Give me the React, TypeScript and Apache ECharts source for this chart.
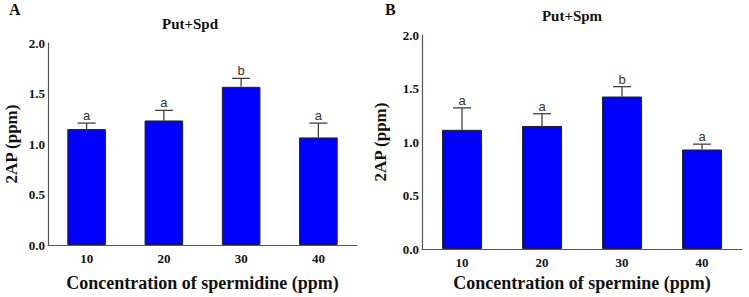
import React, { useEffect, useRef } from "react";
import * as echarts from "echarts";

const categories = ["10", "20", "30", "40"];
const spdMeans = [1.148, 1.233, 1.566, 1.065];
const spdUpper = [1.207, 1.333, 1.65, 1.207];
const spdLetters = ["a", "a", "b", "a"];
const spmMeans = [1.114, 1.15, 1.425, 0.93];
const spmUpper = [1.319, 1.264, 1.517, 0.98];
const spmLetters = ["a", "a", "b", "a"];
const yTicks = [0, 0.5, 1.0, 1.5, 2.0];

const serif = "'Liberation Serif', 'Times New Roman', serif";
const sans = "'Liberation Sans', Arial, sans-serif";

function errSeries(idx: number, means: number[], upper: number[], letters: string[]) {
  return {
    type: "custom",
    xAxisIndex: idx,
    yAxisIndex: idx,
    z: 3,
    data: means.map((m, i) => [i, m, upper[i]]),
    renderItem: (params: any, api: any) => {
      const i = api.value(0);
      const lo = api.coord([i, api.value(1)]);
      const hi = api.coord([i, api.value(2)]);
      const cap = 9;
      return {
        type: "group",
        children: [
          { type: "line", shape: { x1: lo[0], y1: lo[1], x2: hi[0], y2: hi[1] }, style: { stroke: "#333", lineWidth: 1.2 } },
          { type: "line", shape: { x1: hi[0] - cap, y1: hi[1], x2: hi[0] + cap, y2: hi[1] }, style: { stroke: "#333", lineWidth: 1.2 } },
          {
            type: "text",
            x: hi[0],
            y: hi[1] - 1,
            style: { text: letters[i], fontFamily: sans, fontSize: 13, fill: "#333", align: "center", verticalAlign: "bottom" },
          },
        ],
      };
    },
  };
}

function makeX(idx: number, name: string, gap: number) {
  return {
    type: "category",
    gridIndex: idx,
    data: categories,
    axisLine: { lineStyle: { color: "#555", width: 1.2 } },
    axisTick: { show: false },
    axisLabel: { fontFamily: serif, fontWeight: "bold", fontSize: 13, color: "#111", margin: 7 },
    name,
    nameLocation: "middle",
    nameGap: gap,
    nameTextStyle: { fontFamily: serif, fontWeight: "bold", fontSize: 18, color: "#111" },
  };
}

function makeY(idx: number, gap: number) {
  return {
    type: "value",
    gridIndex: idx,
    min: yTicks[0],
    max: yTicks[yTicks.length - 1],
    interval: 0.5,
    splitLine: { show: false },
    axisLine: { show: true, lineStyle: { color: "#555", width: 1.2 } },
    axisTick: { show: false },
    axisLabel: { fontFamily: serif, fontWeight: "bold", fontSize: 13, color: "#111", margin: 3, formatter: (v: number) => v.toFixed(1) },
    name: "2AP (ppm)",
    nameLocation: "middle",
    nameGap: gap,
    nameRotate: 90,
    nameTextStyle: { fontFamily: serif, fontWeight: "bold", fontSize: 17, color: "#111" },
  };
}

export default function App() {
  const ref = useRef<HTMLDivElement>(null);
  useEffect(() => {
    if (!ref.current) return;
    const chart = echarts.init(ref.current, null, { renderer: "svg" });
    chart.setOption({
      animation: false,
      backgroundColor: "#fff",
      grid: [
        { left: 48, top: 43, width: 309, height: 206 },
        { left: 422, top: 35, width: 320, height: 218 },
      ],
      xAxis: [makeX(0, "Concentration of spermidine (ppm)", 29), makeX(1, "Concentration of spermine (ppm)", 25)],
      yAxis: [makeY(0, 28), makeY(1, 33)],
      graphic: [
        { type: "text", x: 9, y: 1, style: { text: "A", fontFamily: serif, fontWeight: "bold", fontSize: 16, fill: "#111" } },
        { type: "text", x: 385, y: 1, style: { text: "B", fontFamily: serif, fontWeight: "bold", fontSize: 16, fill: "#111" } },
        { type: "text", x: 190, y: 16, style: { text: "Put+Spd", fontFamily: serif, fontWeight: "bold", fontSize: 15, fill: "#111", align: "center" } },
        { type: "text", x: 572, y: 8, style: { text: "Put+Spm", fontFamily: serif, fontWeight: "bold", fontSize: 15, fill: "#111", align: "center" } },
      ],
      series: [
        {
          type: "bar",
          xAxisIndex: 0,
          yAxisIndex: 0,
          data: spdMeans,
          barWidth: "50%",
          itemStyle: { color: "#0000ff", borderColor: "#222", borderWidth: 1 },
        },
        {
          type: "bar",
          xAxisIndex: 1,
          yAxisIndex: 1,
          data: spmMeans,
          barWidth: "50%",
          itemStyle: { color: "#0000ff", borderColor: "#222", borderWidth: 1 },
        },
        errSeries(0, spdMeans, spdUpper, spdLetters),
        errSeries(1, spmMeans, spmUpper, spmLetters),
      ],
    });
    return () => chart.dispose();
  }, []);
  return <div ref={ref} style={{ position: "fixed", left: 0, top: 0, width: 749, height: 297 }} />;
}
